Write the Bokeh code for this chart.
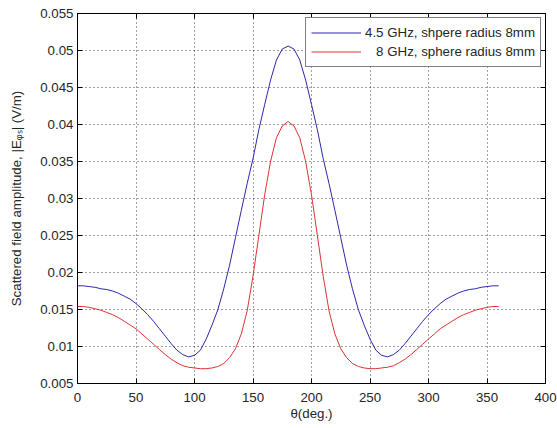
from bokeh.plotting import figure
from bokeh.models import FixedTicker, LinearAxis, Range1d, Legend, LegendItem
from bokeh.embed import file_html
from bokeh.resources import INLINE

# ---- data ----
theta = [0, 5, 10, 15, 20, 25, 30, 35, 40, 45, 50, 55, 60, 65, 70, 75, 80, 85, 90,
         95, 100, 105, 110, 115, 120, 125, 130, 135, 140, 145, 150, 155, 160, 165, 170,
         175, 180, 185, 190, 195, 200, 205, 210, 215, 220, 225, 230, 235, 240, 245, 250,
         255, 260, 265, 270, 275, 280, 285, 290, 295, 300, 305, 310, 315, 320, 325, 330,
         335, 340, 345, 350, 355, 360]

amp_45ghz = [0.0182, 0.0182, 0.0181, 0.0180, 0.0178, 0.0177, 0.0175, 0.0172, 0.0168, 0.0164,
             0.0158, 0.0151, 0.0143, 0.0134, 0.0124, 0.0114, 0.0104, 0.0095, 0.0089, 0.0086,
             0.0088, 0.0095, 0.0110, 0.0129, 0.0150, 0.0178, 0.0210, 0.0247, 0.0284, 0.0320,
             0.0354, 0.0393, 0.0427, 0.0460, 0.0487, 0.0502, 0.0506, 0.0502, 0.0487, 0.0460,
             0.0427, 0.0393, 0.0354, 0.0320, 0.0284, 0.0247, 0.0210, 0.0178, 0.0150, 0.0129,
             0.0110, 0.0095, 0.0088, 0.0086, 0.0089, 0.0095, 0.0104, 0.0114, 0.0124, 0.0134,
             0.0143, 0.0151, 0.0158, 0.0164, 0.0168, 0.0172, 0.0175, 0.0177, 0.0178, 0.0180,
             0.0181, 0.0182, 0.0182]

amp_8ghz = [0.0154, 0.0154, 0.0153, 0.0151, 0.0149, 0.0146, 0.0143, 0.0139, 0.0134, 0.0129,
            0.0124, 0.0117, 0.0110, 0.0103, 0.0096, 0.0089, 0.0083, 0.0078, 0.0074, 0.0072,
            0.0071, 0.0070, 0.0070, 0.0071, 0.0073, 0.0077, 0.0085, 0.0097, 0.0117, 0.0148,
            0.0195, 0.0250, 0.0305, 0.0350, 0.0382, 0.0398, 0.0404, 0.0398, 0.0382, 0.0350,
            0.0305, 0.0250, 0.0195, 0.0148, 0.0117, 0.0097, 0.0085, 0.0077, 0.0073, 0.0071,
            0.0070, 0.0070, 0.0071, 0.0072, 0.0074, 0.0078, 0.0083, 0.0089, 0.0096, 0.0103,
            0.0110, 0.0117, 0.0124, 0.0129, 0.0134, 0.0139, 0.0143, 0.0146, 0.0149, 0.0151,
            0.0153, 0.0154, 0.0154]

x_ticks = [0, 50, 100, 150, 200, 250, 300, 350, 400]
y_ticks = [0.005, 0.01, 0.015, 0.02, 0.025, 0.03, 0.035, 0.04, 0.045, 0.05, 0.055]
y_tick_labels = ["0.005", "0.01", "0.015", "0.02", "0.025", "0.03", "0.035",
                 "0.04", "0.045", "0.05", "0.055"]
series_labels = ["4.5 GHz, shpere radius 8mm", "\u00a0\u00a0\u00a08 GHz, sphere radius 8mm"]
x_label = "\u03b8(deg.)"
y_label = "Scattered field amplitude, |E\u1d69\u209b| (V/m)"

FONT = "Liberation Sans"
FS = "13.3px"
TXT = "#262626"

p = figure(width=557, height=428,
           x_range=Range1d(x_ticks[0], x_ticks[-1]),
           y_range=Range1d(y_ticks[0], y_ticks[-1]),
           output_backend="svg", toolbar_location=None,
           min_border_left=77, min_border_right=12, min_border_top=13, min_border_bottom=45)

p.background_fill_color = "white"
p.border_fill_color = "white"
p.outline_line_color = "black"
p.outline_line_width = 1

r1 = p.line(theta, amp_45ghz, line_color="#2a2aa8", line_width=1)
r2 = p.line(theta, amp_8ghz, line_color="#dd3333", line_width=1)

xt = FixedTicker(ticks=x_ticks)
yt = FixedTicker(ticks=y_ticks)

for ax in p.xaxis:
    ax.ticker = xt
for ax in p.yaxis:
    ax.ticker = yt
    ax.major_label_overrides = dict(zip(y_ticks, y_tick_labels))

for ax in p.axis:
    ax.major_tick_in = 5
    ax.major_tick_out = 0
    ax.minor_tick_in = 0
    ax.minor_tick_out = 0
    ax.axis_line_color = "black"
    ax.major_tick_line_color = "black"
    ax.major_label_text_font = FONT
    ax.major_label_text_font_size = FS
    ax.major_label_text_color = TXT
    ax.axis_label_text_font = FONT
    ax.axis_label_text_font_size = FS
    ax.axis_label_text_font_style = "normal"
    ax.axis_label_text_color = TXT

p.xaxis.axis_label = x_label
p.yaxis.axis_label = y_label
p.xaxis.major_label_standoff = 9
p.xaxis.axis_label_standoff = 1
p.yaxis.major_label_standoff = 4
p.yaxis.axis_label_standoff = 13

# mirrored tick marks on top and right (labels not drawn)
top = LinearAxis(ticker=xt, major_label_text_font_size="0px", major_label_text_color=None,
                 major_label_standoff=0,
                 major_tick_in=5, major_tick_out=0, minor_tick_in=0, minor_tick_out=0,
                 axis_line_color="black", major_tick_line_color="black")
right = LinearAxis(ticker=yt, major_label_text_font_size="0px", major_label_text_color=None,
                   major_label_standoff=0,
                   major_tick_in=5, major_tick_out=0, minor_tick_in=0, minor_tick_out=0,
                   axis_line_color="black", major_tick_line_color="black")
p.add_layout(top, "above")
p.add_layout(right, "right")

p.xgrid.ticker = xt
p.ygrid.ticker = yt
for g in (p.xgrid, p.ygrid):
    g.grid_line_color = "black"
    g.grid_line_alpha = 0.75
    g.grid_line_dash = "1 3"
    g.grid_line_width = 1

legend = Legend(items=[LegendItem(label=series_labels[0], renderers=[r1]),
                       LegendItem(label=series_labels[1], renderers=[r2])],
                location="top_right")
legend.border_line_color = "black"
legend.border_line_width = 1
legend.background_fill_color = "white"
legend.background_fill_alpha = 1
legend.label_text_font = FONT
legend.label_text_font_size = FS
legend.label_text_color = TXT
legend.glyph_width = 50
legend.glyph_height = 19
legend.label_height = 19
legend.spacing = 0
legend.padding = 5
legend.margin = 4
legend.label_standoff = 4
p.add_layout(legend)

open("out.html", "w").write(file_html(p, INLINE))
